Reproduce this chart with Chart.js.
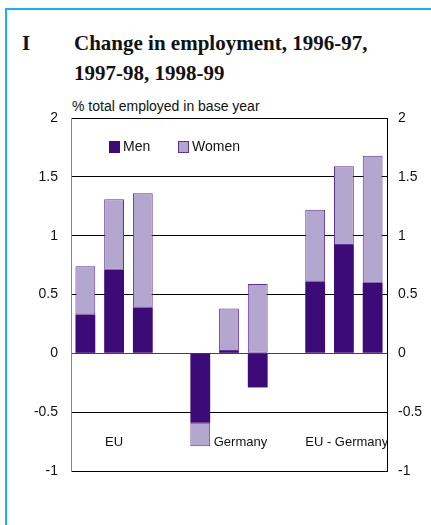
<!DOCTYPE html>
<html>
<head>
<meta charset="utf-8">
<script src="https://cdn.jsdelivr.net/npm/chart.js@4/dist/chart.umd.min.js"></script>
<style>
  html, body { margin: 0; padding: 0; background: #fff; }
  #page { position: relative; width: 431px; height: 525px; overflow: hidden; }
  #frame { position: absolute; left: 5px; top: 8px; width: 440px; height: 530px;
    border-left: 2px solid #1ab0ec; border-top: 2px solid #1ab0ec; }
  .title { position: absolute; font-family: "Liberation Serif", serif; font-weight: bold;
    font-size: 21px; color: #111; line-height: 30px; }
  #sub { position: absolute; left: 72px; top: 98px; font-family: "Liberation Sans", Arial, sans-serif;
    font-size: 14px; color: #111; }
  #wrap { position: absolute; left: 0; top: 0; width: 431px; height: 525px; }
</style>
</head>
<body>
<div id="page">
  <div id="frame"></div>
  <div class="title" style="left:22px; top:28px;">I</div>
  <div class="title" style="left:74px; top:28px;">Change in employment, 1996-97,<br>1997-98, 1998-99</div>
  <div id="sub">% total employed in base year</div>
  <div id="wrap"><canvas id="grafico"></canvas></div>
</div>
<script>
// 11 slots: 3 bars per group, empty slot between groups
const slots = ['EU 96-97', 'EU 97-98', 'EU 98-99', '', 'DE 96-97', 'DE 97-98', 'DE 98-99', ' ', 'EU-DE 96-97', 'EU-DE 97-98', 'EU-DE 98-99']
const homens = [0.33, 0.71, 0.39, null, -0.59, 0.02, -0.29, null, 0.61, 0.92, 0.60]
const mulheres = [0.41, 0.60, 0.97, null, -0.20, 0.36, 0.59, null, 0.61, 0.67, 1.08]
const grupos = ['EU', 'Germany', 'EU - Germany']
const grupoPos = [1, 5.4, 9.1]
const ticksY = [2, 1.5, 1, 0.5, 0, -0.5, -1]

const corHomens = '#3c0b78'
const corMulheres = '#b3a6cf'
const bordaMulheres = '#5e3195'

// rotulos dos grupos e legenda dentro da area do grafico
const extras = {
  id: 'extras',
  afterDatasetsDraw(chart) {
    const { ctx, chartArea, scales } = chart
    ctx.save()
    ctx.font = '13px "Liberation Sans", Arial, sans-serif'
    ctx.fillStyle = '#111'
    ctx.textAlign = 'center'
    ctx.textBaseline = 'middle'
    grupos.forEach((g, i) => {
      ctx.fillText(g, scales.x.getPixelForValue(grupoPos[i]), scales.y.getPixelForValue(-0.76))
    })

    // legenda
    ctx.font = '14px "Liberation Sans", Arial, sans-serif'
    ctx.textAlign = 'left'
    const y0 = chartArea.top + 23
    const itens = [
      { txt: 'Men', cor: corHomens, borda: corHomens, x: chartArea.left + 38 },
      { txt: 'Women', cor: corMulheres, borda: bordaMulheres, x: chartArea.left + 107 },
    ]
    itens.forEach((it) => {
      ctx.fillStyle = it.cor
      ctx.fillRect(it.x, y0, 11, 12)
      ctx.strokeStyle = it.borda
      ctx.lineWidth = 1
      ctx.strokeRect(it.x + 0.5, y0 + 0.5, 10, 11)
      ctx.fillStyle = '#111'
      ctx.fillText(it.txt, it.x + 14, y0 + 6.5)
    })
    ctx.restore()
  },
}

const fonteTick = { family: '"Liberation Sans", Arial, sans-serif', size: 14 }

const ctx = document.getElementById('grafico').getContext('2d')
new Chart(ctx, {
  type: 'bar',
  data: {
    labels: slots,
    datasets: [
      {
        label: 'Men',
        data: homens,
        backgroundColor: corHomens,
        borderColor: corHomens,
        borderWidth: 0,
      },
      {
        label: 'Women',
        data: mulheres,
        backgroundColor: corMulheres,
        borderColor: bordaMulheres,
        borderWidth: 1,
        borderSkipped: false,
      },
    ],
  },
  options: {
    responsive: true,
    maintainAspectRatio: false,
    animation: false,
    layout: { padding: { top: 118, bottom: 54, left: 0, right: 0 } },
    datasets: { bar: { categoryPercentage: 1, barPercentage: 0.69 } },
    plugins: { legend: { display: false }, tooltip: { enabled: false } },
    scales: {
      x: { display: false, stacked: true },
      y: {
        stacked: true,
        position: 'left',
        min: -1,
        max: 2,
        afterBuildTicks: (s) => { s.ticks = ticksY.map((v) => ({ value: v })) },
        afterFit: (s) => { s.width = 71 },
        border: { display: true, color: '#888', width: 1 },
        grid: {
          drawTicks: false,
          color: (c) => (c.tick && c.tick.value === 0 ? '#444' : '#000'),
          lineWidth: 1,
        },
        ticks: {
          padding: 13,
          color: '#111',
          font: fonteTick,
          callback: (v) => String(v),
        },
      },
      y2: {
        position: 'right',
        min: -1,
        max: 2,
        afterBuildTicks: (s) => { s.ticks = ticksY.map((v) => ({ value: v })) },
        afterFit: (s) => { s.width = 44 },
        border: { display: true, color: '#000', width: 1 },
        grid: { display: false, drawTicks: false },
        ticks: {
          padding: 11,
          color: '#111',
          font: fonteTick,
          callback: (v) => String(v),
        },
      },
    },
  },
  plugins: [extras],
})
</script>
</body>
</html>
